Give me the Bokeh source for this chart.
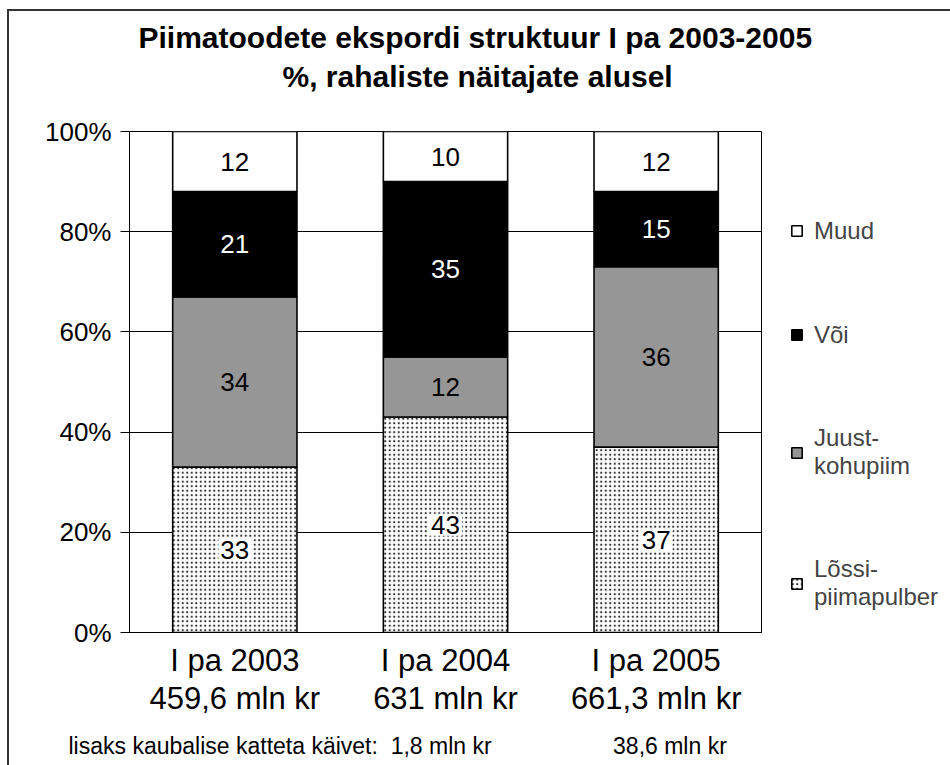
from bokeh.plotting import figure
from bokeh.models import (ColumnDataSource, Legend, LegendItem, Title, FixedTicker, Range1d,
                          FactorRange, CategoricalAxis)
from bokeh.core.properties import value
from bokeh.embed import file_html
from bokeh.resources import INLINE

# ---- data ----
periods = ["I pa 2003", "I pa 2004", "I pa 2005"]
totals = ["459,6 mln kr", "631 mln kr", "661,3 mln kr"]
lossi = [33, 43, 37]       # Lõssipiimapulber
juust = [34, 12, 36]       # Juust-kohupiim
voi = [21, 35, 15]         # Või
muud = [12, 10, 12]        # Muud
series_names = ["Lõssi-\npiimapulber", "Juust-\nkohupiim", "Või", "Muud"]
y_ticks = [0, 20, 40, 60, 80, 100]
title_lines = ["Piimatoodete ekspordi struktuur I pa 2003-2005", "%, rahaliste näitajate alusel"]
footer_text = "lisaks kaubalise katteta käivet:  1,8 mln kr"
footer_text2 = "38,6 mln kr"

FONT = "Liberation Sans"
NB = "\u00a0"

# cumulative bounds built from the series
b0 = [0, 0, 0]
t0 = [b + v for b, v in zip(b0, lossi)]
t1 = [b + v for b, v in zip(t0, juust)]
t2 = [b + v for b, v in zip(t1, voi)]
t3 = [b + v for b, v in zip(t2, muud)]

src = ColumnDataSource(dict(
    period=periods,
    b0=b0, t0=t0, t1=t1, t2=t2, t3=t3,
    c0=[(a + b) / 2 for a, b in zip(b0, t0)],
    c1=[(a + b) / 2 for a, b in zip(t0, t1)],
    c2=[(a + b) / 2 for a, b in zip(t1, t2)],
    c3=[(a + b) / 2 for a, b in zip(t2, t3)],
    l0=[str(v) for v in lossi],
    l1=[str(v) for v in juust],
    l2=[str(v) for v in voi],
    l3=[str(v) for v in muud],
))

p = figure(
    x_range=FactorRange(*periods, range_padding=0),
    y_range=Range1d(0, 100),
    frame_width=632, frame_height=501,
    title=None,
    output_backend="svg", toolbar_location=None,
    min_border_left=120, min_border_right=20,
    min_border_top=120, min_border_bottom=120,
    styles={"margin-left": "7px", "margin-top": "9px",
            "border-left": "2px solid #333", "border-top": "2px solid #333"},
)
p.extra_x_ranges = {"totals": FactorRange(*totals, range_padding=0)}
p.outline_line_color = "black"
p.outline_line_width = 1
p.background_fill_color = "white"
p.border_fill_color = "white"

W = 0.59
LW = 1.6
r_lossi = p.vbar(x="period", bottom="b0", top="t0", width=W, source=src,
                 fill_color="white", line_color="black", line_width=LW,
                 hatch_pattern="dot", hatch_color="#333333", hatch_scale=4.5, hatch_weight=1.6)
r_juust = p.vbar(x="period", bottom="t0", top="t1", width=W, source=src,
                 fill_color="#969696", line_color="black", line_width=LW)
r_voi = p.vbar(x="period", bottom="t1", top="t2", width=W, source=src,
               fill_color="black", line_color="black", line_width=LW)
r_muud = p.vbar(x="period", bottom="t2", top="t3", width=W, source=src,
                fill_color="white", line_color="black", line_width=LW)

# segment value labels
common = dict(text_font=value(FONT), text_font_size="26px", text_align="center", text_baseline="middle")
p.text(x="period", y="c0", text="l0", source=src, text_color="black",
       background_fill_color="white", padding=2, **common)
p.text(x="period", y="c1", text="l1", source=src, text_color="black", **common)
p.text(x="period", y="c2", text="l2", source=src, text_color="white", **common)
p.text(x="period", y="c3", text="l3", source=src, text_color="black", **common)

# axes
p.yaxis.ticker = FixedTicker(ticks=y_ticks)
p.yaxis.major_label_overrides = {t: f"{t}%" for t in y_ticks}
p.yaxis.major_label_text_font = FONT
p.yaxis.major_label_text_font_size = "26px"
p.yaxis.major_label_text_color = "black"
p.yaxis.major_tick_out = 9
p.yaxis.major_tick_in = 0
p.yaxis.minor_tick_line_color = None
p.yaxis.axis_line_color = "black"
p.yaxis.major_tick_line_color = "black"
p.yaxis.major_label_standoff = 9

for ax in p.xaxis:
    ax.major_label_text_font = FONT
    ax.major_label_text_font_size = "31px"
    ax.major_label_text_color = "black"
    ax.major_tick_line_color = None
    ax.major_tick_out = 0
    ax.major_tick_in = 0
    ax.axis_line_color = "black"
    ax.major_label_standoff = 10

# second row of category labels: totals
ax2 = CategoricalAxis(x_range_name="totals",
                      major_label_text_font=FONT, major_label_text_font_size="31px",
                      major_label_text_color="black", major_tick_line_color=None,
                      major_tick_out=0, major_tick_in=0, axis_line_color=None,
                      major_label_standoff=0)
p.add_layout(ax2, "below")

p.xgrid.grid_line_color = None
p.ygrid.grid_line_color = "black"
p.ygrid.grid_line_width = 1
p.ygrid.ticker = FixedTicker(ticks=y_ticks)

# title (two centred lines); first added sits closest to the frame
p.add_layout(Title(text=NB, text_font_size="1px", standoff=34), "above")
p.add_layout(Title(text=title_lines[1], align="left", offset=153, text_font=FONT,
                   text_font_size="30px", text_font_style="bold", text_color="black",
                   standoff=4), "above")
p.add_layout(Title(text=title_lines[0], align="left", offset=9, text_font=FONT,
                   text_font_size="30px", text_font_style="bold", text_color="black",
                   standoff=4), "above")

# legend in the right panel
items = [
    LegendItem(label=series_names[3], renderers=[r_muud]),
    LegendItem(label=series_names[2], renderers=[r_voi]),
    LegendItem(label=series_names[1], renderers=[r_juust]),
    LegendItem(label=series_names[0], renderers=[r_lossi]),
]
lg = Legend(items=items, location="top_left",
            title=NB, title_text_font_size="24px", title_standoff=28,
            glyph_width=13, glyph_height=13, label_standoff=11,
            label_height=29, padding=0, margin=29, spacing=75,
            border_line_color=None, background_fill_alpha=0,
            label_text_font=FONT, label_text_font_size="24px",
            label_text_line_height=1.25)
p.add_layout(lg, "right")

# footer note below the axes
footer = footer_text.replace(" ", NB) + NB * 19 + footer_text2.replace(" ", NB)
p.add_layout(Title(text=footer, align="left", offset=-61, vertical_align="top",
                   text_font=FONT, text_font_size="23px", text_font_style="normal",
                   text_color="black", standoff=28), "below")

open("out.html", "w").write(file_html(p, INLINE))
